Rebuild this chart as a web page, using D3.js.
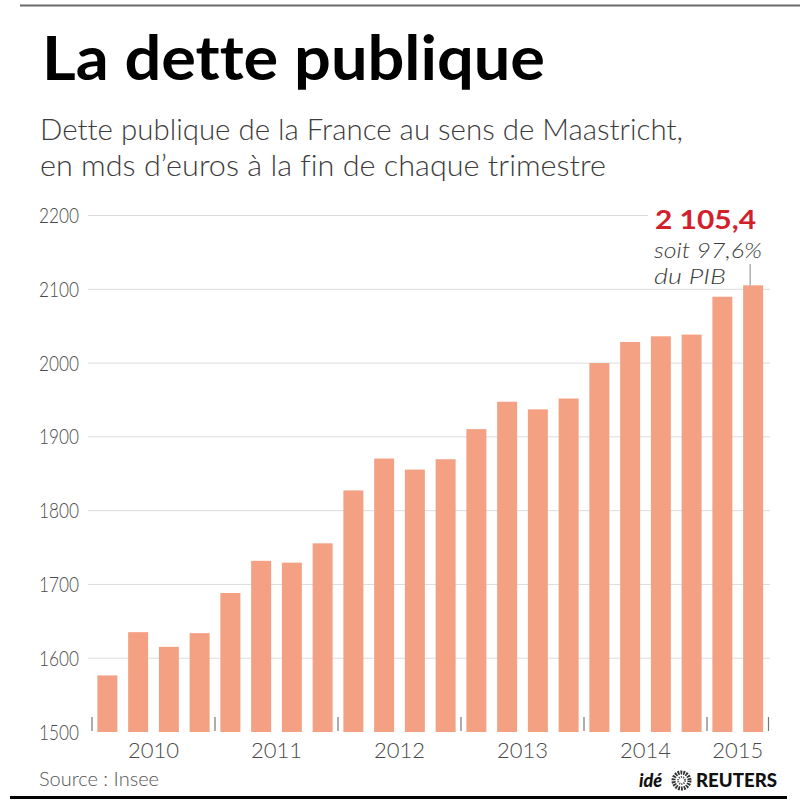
<!DOCTYPE html>
<html>
<head>
<meta charset="utf-8">
<script src="https://cdn.jsdelivr.net/npm/d3@7"></script>
<style>
  html, body { margin: 0; padding: 0; background: #fff; }
  svg { display: block; }
  text { font-variant-ligatures: none; font-feature-settings: "liga" 0, "clig" 0; }
</style>
</head>
<body>
<script>
// ---- Data ----
const quarters = ["2010T1","2010T2","2010T3","2010T4",
                  "2011T1","2011T2","2011T3","2011T4",
                  "2012T1","2012T2","2012T3","2012T4",
                  "2013T1","2013T2","2013T3","2013T4",
                  "2014T1","2014T2","2014T3","2014T4",
                  "2015T1","2015T2"];
const debt = [1576.7, 1635.3, 1615.4, 1634.0,
              1688.4, 1732.0, 1729.5, 1755.7,
              1827.4, 1870.6, 1855.6, 1869.7,
              1910.5, 1947.6, 1937.3, 1952.0,
              2000.0, 2028.6, 2036.3, 2038.6,
              2089.9, 2105.4];
const years = ["2010","2011","2012","2013","2014","2015"];
const yTicks = [1500, 1600, 1700, 1800, 1900, 2000, 2100, 2200];
const title = "La dette publique";
const subtitle = ["Dette publique de la France au sens de Maastricht,",
                  "en mds d\u2019euros à la fin de chaque trimestre"];
const annotValue = "2 105,4";
const annotLines = ["soit 97,6%", "du PIB"];
const source = "Source : Insee";

// ---- Layout ----
const W = 800, H = 800;
const svg = d3.select("body").append("svg").attr("width", W).attr("height", H);

const pi = 0.35;
const x = d3.scaleBand().domain(quarters).range([92, 768.5])
  .paddingInner(pi).paddingOuter(pi / 2);
const y = d3.scaleLinear().domain([1500, 2200]).range([732, 215.5]);

// top rule
svg.append("line").attr("x1", 20).attr("x2", 800).attr("y1", 5.5).attr("y2", 5.5)
  .attr("stroke", "#6a6a6a").attr("stroke-width", 2);
// bottom rule
svg.append("line").attr("x1", 10).attr("x2", 787).attr("y1", 797.5).attr("y2", 797.5)
  .attr("stroke", "#000").attr("stroke-width", 3);

// title
svg.append("text").attr("x", 42).attr("y", 80)
  .attr("font-family", "Lato, 'Noto Sans', sans-serif").attr("font-weight", 700)
  .attr("font-size", 62).attr("fill", "#000")
  .attr("textLength", 503).attr("lengthAdjust", "spacingAndGlyphs")
  .text(title);

// subtitle
const subLens = [643, 566];
subtitle.forEach((s, i) => {
  svg.append("text").attr("x", 40).attr("y", 140 + i * 36)
    .attr("font-family", "Lato, 'Noto Sans', sans-serif").attr("font-weight", 300)
    .attr("font-size", 30).attr("fill", "#3c3c3c")
    .attr("textLength", subLens[i]).attr("lengthAdjust", "spacingAndGlyphs")
    .text(s);
});

// gridlines + y labels
const g = svg.append("g");
g.selectAll("line.grid").data(yTicks.filter(d => d > 1500)).join("line")
  .attr("class", "grid")
  .attr("x1", 88).attr("x2", 770)
  .attr("y1", d => y(d)).attr("y2", d => y(d))
  .attr("stroke", "#dcdcdc").attr("stroke-width", 1);
g.selectAll("text.ylab").data(yTicks).join("text")
  .attr("class", "ylab")
  .attr("x", 79).attr("y", d => y(d) + 7.5)
  .attr("text-anchor", "end")
  .attr("font-family", "Lato, 'Noto Sans', sans-serif").attr("font-weight", 300)
  .attr("font-size", 22).attr("fill", "#4a4a4a")
  .attr("textLength", 40).attr("lengthAdjust", "spacingAndGlyphs")
  .text(d => d);

// white box behind annotation
svg.append("rect").attr("x", 648).attr("y", 200).attr("width", 130).attr("height", 84)
  .attr("fill", "#fff");

// bars
svg.append("g").selectAll("rect").data(quarters).join("rect")
  .attr("x", d => x(d))
  .attr("width", x.bandwidth())
  .attr("y", (d, i) => y(debt[i]))
  .attr("height", (d, i) => y(1500) - y(debt[i]))
  .attr("fill", "#f4a183");

// year ticks
const step = x.step();
const tickXs = years.map(yr => x(yr + "T1") - step * pi / 2);
tickXs.push(x(quarters[quarters.length - 1]) + x.bandwidth() + step * pi / 2);
svg.append("g").selectAll("line").data(tickXs).join("line")
  .attr("x1", d => d).attr("x2", d => d)
  .attr("y1", 717).attr("y2", 731)
  .attr("stroke", "#777").attr("stroke-width", 1.2);

// year labels
svg.append("g").selectAll("text").data(years).join("text")
  .attr("x", (d, i) => (tickXs[i] + tickXs[i + 1]) / 2)
  .attr("y", 758)
  .attr("text-anchor", "middle")
  .attr("font-family", "Lato, 'Noto Sans', sans-serif").attr("font-weight", 300)
  .attr("font-size", 22).attr("fill", "#4a4a4a")
  .text(d => d);

// annotation
const lastQ = quarters[quarters.length - 1];
const lastV = debt[debt.length - 1];
const ax = x(lastQ) + x.bandwidth() / 2 - 3;
svg.append("line").attr("x1", ax).attr("x2", ax)
  .attr("y1", 264).attr("y2", y(lastV))
  .attr("stroke", "#888").attr("stroke-width", 1);
svg.append("text").attr("x", 655).attr("y", 229)
  .attr("font-family", "Lato, 'Noto Sans', sans-serif").attr("font-weight", 700)
  .attr("font-size", 26).attr("fill", "#d3212c")
  .attr("textLength", 101).attr("lengthAdjust", "spacingAndGlyphs")
  .text(annotValue);
const annotLens = [108, 72];
annotLines.forEach((s, i) => {
  svg.append("text").attr("x", 654).attr("y", 258 + i * 25.5)
    .attr("font-family", "Lato, 'Noto Sans', sans-serif").attr("font-style", "italic")
    .attr("font-weight", 300)
    .attr("font-size", 21).attr("fill", "#3c3c3c")
    .attr("textLength", annotLens[i]).attr("lengthAdjust", "spacingAndGlyphs")
    .text(s);
});

// source
svg.append("text").attr("x", 39).attr("y", 786)
  .attr("font-family", "Lato, 'Noto Sans', sans-serif").attr("font-weight", 300)
  .attr("font-size", 20).attr("fill", "#555")
  .text(source);

// Reuters credit
svg.append("text").attr("x", 639).attr("y", 787)
  .attr("font-family", "Lato, 'Noto Sans', sans-serif").attr("font-weight", 900)
  .attr("font-style", "italic")
  .attr("font-size", 18).attr("fill", "#111")
  .text("idé");
const logo = svg.append("g").attr("transform", "translate(681.5,780.5)");
logo.append("circle").attr("r", 8).attr("fill", "none").attr("stroke", "#333")
  .attr("stroke-width", 4).attr("stroke-dasharray", "1.8 1");
logo.append("circle").attr("r", 3.5).attr("fill", "none").attr("stroke", "#555")
  .attr("stroke-width", 2).attr("stroke-dasharray", "1.2 1");
svg.append("text").attr("x", 696).attr("y", 787)
  .attr("font-family", "Lato, 'Noto Sans', sans-serif").attr("font-weight", 900)
  .attr("font-size", 18).attr("fill", "#111")
  .attr("textLength", 81).attr("lengthAdjust", "spacingAndGlyphs")
  .text("REUTERS");
</script>
</body>
</html>
